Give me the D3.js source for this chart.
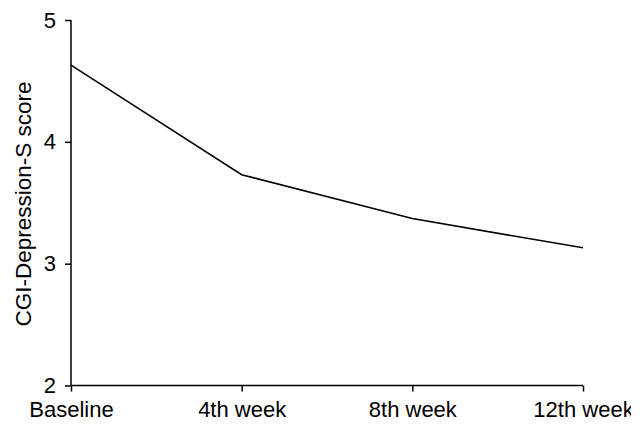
<!DOCTYPE html>
<html><head><meta charset="utf-8">
<script src="https://cdn.jsdelivr.net/npm/d3@7"></script>
<style>html,body{margin:0;padding:0;background:#fff;}svg{display:block;}</style>
</head><body>
<svg id="c" width="643" height="430"></svg>
<script>
const categories = ["Baseline", "4th week", "8th week", "12th week"];
const values = [4.63, 3.73, 3.37, 3.13];
const yTicks = [2, 3, 4, 5];
const yTitle = "CGI-Depression-S score";

(function () {
const svg = d3.select("#c");
svg.append("defs").append("clipPath").attr("id","clip")
  .append("rect").attr("x",0).attr("y",0).attr("width",631).attr("height",430);
const g0 = svg.append("g").attr("clip-path","url(#clip)");
const mL = 71, mR = 583, mT = 20, mB = 385.5;
const x = d3.scalePoint().domain(categories).range([mL, mR]);
const y = d3.scaleLinear().domain([2, 5]).range([mB, mT]);
const font = "Liberation Sans, Arial, sans-serif";

const xa = g0.append("g").attr("transform", `translate(0,${mB})`)
  .call(d3.axisBottom(x).tickSize(6).tickSizeOuter(0).tickPadding(10));
const ya = g0.append("g").attr("transform", `translate(${mL},0)`)
  .call(d3.axisLeft(y).tickValues(yTicks).tickFormat(d3.format("d")).tickSize(6).tickSizeOuter(0).tickPadding(9));
[xa, ya].forEach(a => {
  a.selectAll("path,line").attr("stroke", "#000").attr("stroke-width", 1.5);
  a.selectAll("text").attr("fill", "#000").style("font-family", font).style("font-size", "22px");
});
xa.select(".domain").attr("d", `M${mL},0H${mR}`);
ya.select(".domain").attr("d", `M0,${mT}V${mB}`);

g0.append("path").datum(values)
  .attr("fill", "none").attr("stroke", "#000").attr("stroke-width", 1.6)
  .attr("d", d3.line().x((d, i) => x(categories[i])).y(d => y(d)));

g0.append("text").attr("transform", `translate(31,204) rotate(-90)`)
  .attr("text-anchor", "middle").style("font-family", font).style("font-size", "22.5px")
  .attr("fill", "#000").text(yTitle);
})();
</script>
</body></html>
